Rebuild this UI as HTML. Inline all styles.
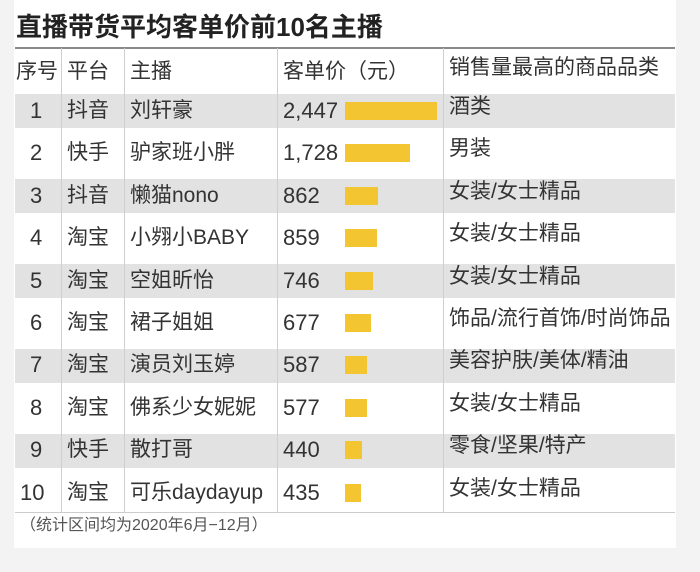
<!DOCTYPE html>
<html><head><meta charset="utf-8"><style>
body{margin:0;width:700px;height:572px;background:#f3f3f3;font-family:"Liberation Sans","Noto Sans CJK SC",sans-serif;color:#333;position:relative;overflow:hidden}
.panel{position:absolute;left:14px;top:0;width:662px;height:548px;background:#fff}
.t{position:absolute;white-space:nowrap;font-size:21px;line-height:1}
.band{position:absolute;left:15px;width:660px;height:34px;background:#e2e2e2}
.vl{position:absolute;top:48px;height:464px;width:1px;background:#cfcfcf}
.bar{position:absolute;left:345px;height:18px;background:#f2c531}
</style></head><body>
<div class="panel"></div>
<div class="t" style="left:16px;top:14px;font-size:26px;font-weight:bold;color:#222">直播带货平均客单价前10名主播</div>
<div style="position:absolute;left:15px;top:47px;width:660px;height:2px;background:#888"></div>
<div style="position:absolute;left:15px;top:512px;width:660px;height:1px;background:#ccc"></div>
<div class="band" style="top:94px"></div>
<div class="band" style="top:179px"></div>
<div class="band" style="top:264px"></div>
<div class="band" style="top:349px"></div>
<div class="band" style="top:434px"></div>
<div class="vl" style="left:61px"></div>
<div class="vl" style="left:124px"></div>
<div class="vl" style="left:277px"></div>
<div class="vl" style="left:443px"></div>
<div class="t" style="left:16px;top:61px">序号</div>
<div class="t" style="left:67px;top:61px">平台</div>
<div class="t" style="left:130px;top:61px">主播</div>
<div class="t" style="left:283px;top:61px">客单价（元）</div>
<div class="t" style="left:449px;top:57px">销售量最高的商品品类</div>
<div id="rows"></div>
<div class="t" style="left:20px;top:518px;font-size:16px;color:#555">（统计区间均为2020年6月−12月）</div>
<script>
var d=[["1","抖音","刘轩豪","2,447",2447,"酒类"],["2","快手","驴家班小胖","1,728",1728,"男装"],["3","抖音","懒猫nono","862",862,"女装/女士精品"],["4","淘宝","小翙小BABY","859",859,"女装/女士精品"],["5","淘宝","空姐昕怡","746",746,"女装/女士精品"],["6","淘宝","裙子姐姐","677",677,"饰品/流行首饰/时尚饰品"],["7","淘宝","演员刘玉婷","587",587,"美容护肤/美体/精油"],["8","淘宝","佛系少女妮妮","577",577,"女装/女士精品"],["9","快手","散打哥","440",440,"零食/坚果/特产"],["10","淘宝","可乐daydayup","435",435,"女装/女士精品"]];
var h="";
d.forEach(function(r,i){var c=111+42.4*i,y=c-11;
h+='<div class="t" style="left:'+(i==9?20:30)+'px;top:'+y+'px;font-size:22px">'+r[0]+'</div>';
h+='<div class="t" style="left:67px;top:'+y+'px">'+r[1]+'</div>';
h+='<div class="t" style="left:130px;top:'+y+'px">'+r[2]+'</div>';
h+='<div class="t" style="left:283px;top:'+y+'px;font-size:22px">'+r[3]+'</div>';
h+='<div class="bar" style="top:'+(c-9)+'px;width:'+Math.round(r[4]*0.0378)+'px"></div>';
h+='<div class="t" style="left:449px;top:'+(y-4)+'px">'+r[5]+'</div>';});
document.getElementById("rows").innerHTML=h;
</script>
</body></html>
